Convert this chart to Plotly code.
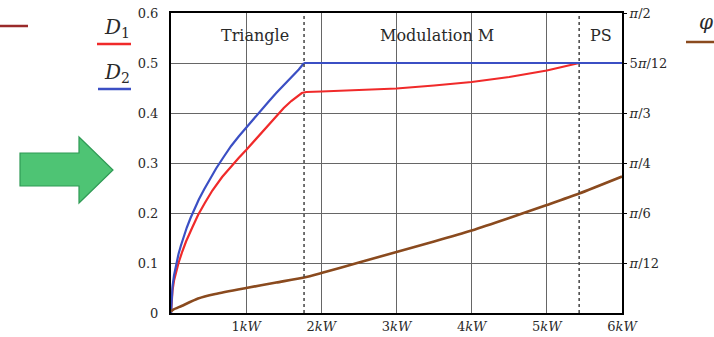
import plotly.graph_objects as go

# ---- data ----
# D2 (blue): duty cycle vs power (kW) - rising part (Triangle mode)
p_d2 = [0, 0.005, 0.01, 0.02, 0.04, 0.06, 0.08, 0.1, 0.13, 0.17, 0.21, 0.26, 0.31, 0.37, 0.44,
        0.52, 0.6, 0.7, 0.8, 0.9, 1.0, 1.1, 1.2, 1.3, 1.4, 1.5, 1.6, 1.7, 1.77]
d2 = [0, 0.026, 0.037, 0.053, 0.075, 0.091, 0.105, 0.118, 0.134, 0.154, 0.171, 0.19, 0.207, 0.227, 0.247,
      0.269, 0.289, 0.312, 0.334, 0.353, 0.371, 0.389, 0.406, 0.423, 0.44, 0.455, 0.47, 0.487, 0.50]
# D2 flat part
p_d2_flat = [1.77, 6.0]
d2_flat = [0.50, 0.50]

# D1 (red)
p_d1 = [0, 0.005, 0.01, 0.02, 0.04, 0.07, 0.1, 0.15, 0.2, 0.28, 0.36, 0.45, 0.55, 0.68, 0.81, 0.9,
        1.0, 1.1, 1.2, 1.3, 1.39, 1.5, 1.6, 1.68, 1.74, 1.8, 1.9, 2.0, 2.5, 3.0, 3.5, 4.0, 4.5, 5.0, 5.43]
d1 = [0, 0.02, 0.032, 0.045, 0.065, 0.085, 0.10, 0.123, 0.143, 0.17, 0.196, 0.22, 0.245, 0.272, 0.295, 0.31,
      0.326, 0.343, 0.36, 0.377, 0.393, 0.41, 0.424, 0.434, 0.44, 0.442, 0.443, 0.443, 0.446, 0.449, 0.455,
      0.462, 0.472, 0.485, 0.50]

# phi (brown) in degrees (right axis: pi/2 = 90 deg)
p_phi = [0, 0.03, 0.14, 0.36, 0.59, 1.0, 1.4, 1.77, 2.0, 2.5, 3.0, 3.5, 4.0, 4.5, 5.0, 5.43, 6.0]
phi = [0.45, 1.0, 2.1, 4.35, 5.7, 7.5, 9.15, 10.65, 12.0, 15.15, 18.3, 21.45, 24.75, 28.5, 32.4, 35.85, 40.95]

# boundaries between modes (kW)
bounds = [1.77, 5.43]
regions = ["Triangle", "Modulation M", "PS"]
region_x = [1.12, 3.54, 5.72]

x_ticks = [1, 2, 3, 4, 5, 6]
x_text = ["1<i>kW</i>", "2<i>kW</i>", "3<i>kW</i>", "4<i>kW</i>", "5<i>kW</i>", "6<i>kW</i>"]
y_ticks = [0, 0.1, 0.2, 0.3, 0.4, 0.5, 0.6]
y_text = ["0", "0.1", "0.2", "0.3", "0.4", "0.5", "0.6"]
phi_ticks = [15, 30, 45, 60, 75, 90]
phi_text = ["<i>π</i>/12", "<i>π</i>/6", "<i>π</i>/4", "<i>π</i>/3", "5<i>π</i>/12", "<i>π</i>/2"]

RED = "#f02a2a"
BLUE = "#3b4fc4"
BROWN = "#8a4a1e"
FONT = "DejaVu Serif"
TXT = "#2a2a2a"

fig = go.Figure()
fig.add_trace(go.Scatter(x=p_phi, y=phi, mode="lines", line=dict(color=BROWN, width=2.6, shape="spline", smoothing=0.6),
                         yaxis="y2", showlegend=False))
fig.add_trace(go.Scatter(x=p_d1, y=d1, mode="lines", line=dict(color=RED, width=2.2),
                         showlegend=False))
fig.add_trace(go.Scatter(x=p_d2, y=d2, mode="lines", line=dict(color=BLUE, width=2.2),
                         showlegend=False))
fig.add_trace(go.Scatter(x=p_d2_flat, y=d2_flat, mode="lines", line=dict(color=BLUE, width=2.2),
                         showlegend=False))

L, R, T, B = 171, 92, 13, 24
W, H = 714, 337
pw, ph = W - L - R, H - T - B


def px(x):
    return (x - L) / pw


def py(y):
    return (H - B - y) / ph


shapes = []
for b in bounds:
    shapes.append(dict(type="line", xref="x", yref="y", x0=b, x1=b, y0=0, y1=0.6,
                       line=dict(color="#444", width=1.5, dash="dot")))
# green arrow
arrow = [(20, 153), (79, 153), (79, 137), (113, 170), (79, 203), (79, 186), (20, 186)]
path = "M " + " L ".join(f"{px(a):.4f},{py(b):.4f}" for a, b in arrow) + " Z"
shapes.append(dict(type="path", xref="paper", yref="paper", path=path,
                   fillcolor="#4ec474", line=dict(color="#2f9a55", width=1.2)))
# legend line samples
for (x0, x1, y, c) in [(97, 131, 44, RED), (98, 131, 89, BLUE), (686, 714, 42, BROWN), (0, 28, 26, "#9a2a2a")]:
    shapes.append(dict(type="line", xref="paper", yref="paper", x0=px(x0), x1=px(x1), y0=py(y), y1=py(y),
                       line=dict(color=c, width=2.5)))

annotations = []
for name, xx in zip(regions, region_x):
    annotations.append(dict(x=xx, y=0.555, xref="x", yref="y", text=name, showarrow=False,
                            xanchor="center", yanchor="middle",
                            font=dict(family=FONT, size=16, color=TXT)))
for (txt, x, y) in [("<i>D</i><sub>1</sub>", 117, 28), ("<i>D</i><sub>2</sub>", 117, 73), ("<i>φ</i>", 706, 22)]:
    annotations.append(dict(x=px(x), y=py(y), xref="paper", yref="paper", text=txt, showarrow=False,
                            xanchor="center", yanchor="middle",
                            font=dict(family=FONT, size=20, color=TXT)))

fig.update_layout(
    width=W, height=H,
    margin=dict(l=L, r=R, t=T, b=B, autoexpand=False),
    paper_bgcolor="white", plot_bgcolor="white",
    showlegend=False,
    font=dict(family=FONT, size=13, color=TXT),
    xaxis=dict(range=[0, 6], tickvals=x_ticks, ticktext=x_text, showgrid=True, automargin=False,
               gridcolor="#666", gridwidth=1, showline=True, linecolor="black", linewidth=2,
               mirror=True, zeroline=False, ticks="", tickfont=dict(family=FONT, size=13, color=TXT)),
    yaxis=dict(range=[0, 0.6], tickvals=y_ticks, ticktext=y_text, showgrid=True, automargin=False,
               gridcolor="#666", gridwidth=1, showline=True, linecolor="black", linewidth=2,
               mirror=True, zeroline=False, ticks="", ticklabelstandoff=8,
               tickfont=dict(family=FONT, size=13, color=TXT)),
    yaxis2=dict(range=[0, 90], overlaying="y", side="right", tickvals=phi_ticks, ticktext=phi_text,
                showgrid=False, zeroline=False, showline=False, ticks="outside", ticklen=4, automargin=False,
                tickcolor="black", tickfont=dict(family=FONT, size=13, color=TXT)),
    shapes=shapes,
    annotations=annotations,
)

fig.write_html("out.html")
